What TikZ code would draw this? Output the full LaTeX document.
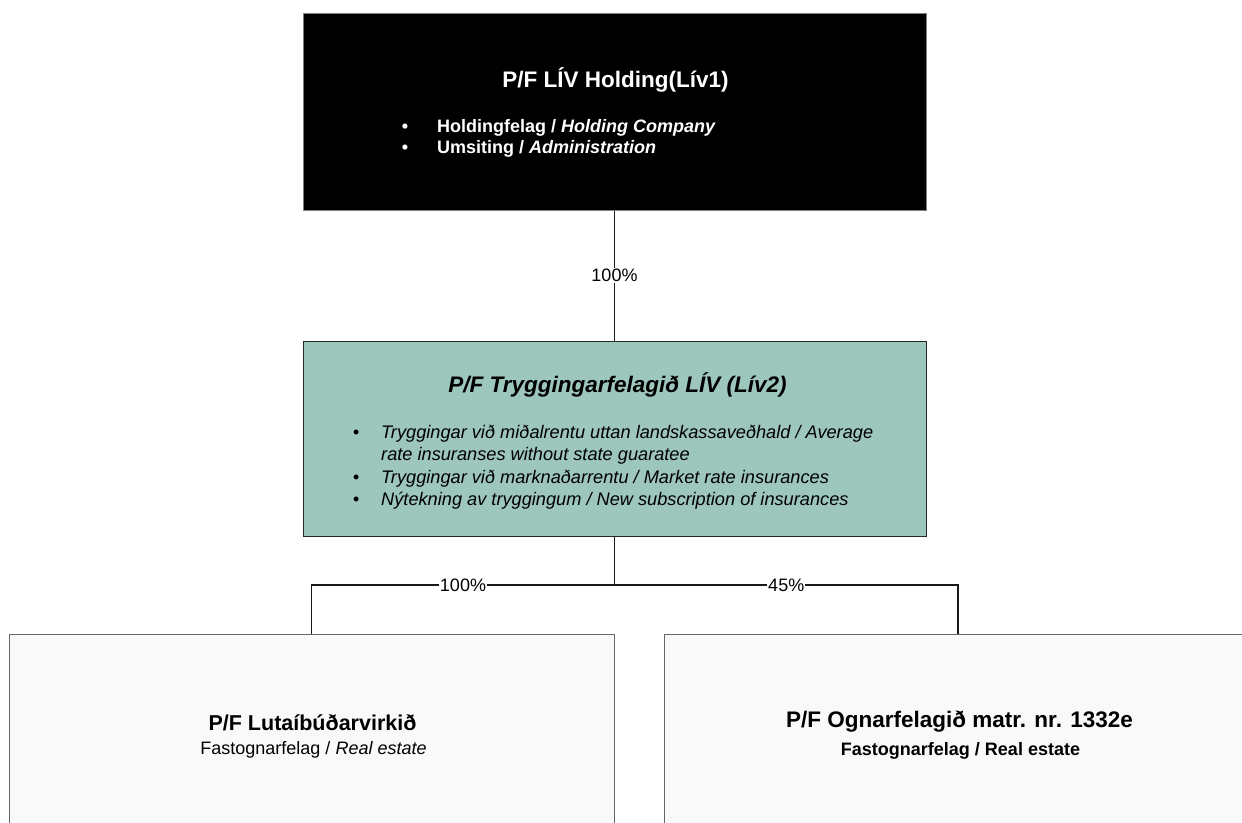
\documentclass[tikz,border=0pt]{standalone}
\usepackage{fontspec}
\setmainfont{Liberation Sans}
\definecolor{tealfill}{RGB}{157,198,188}
\definecolor{boxgray}{RGB}{249,249,249}
\begin{document}
\begin{tikzpicture}[x=1pt,y=-1pt,
  box/.style={draw=black!60,line width=1pt,minimum width=#1,inner sep=0pt},
  conn/.style={draw=black!90,line width=1.5pt},
  lbl/.style={fill=white,inner sep=1pt,font=\fontsize{18}{21}\selectfont},
  txt/.style={inner sep=0pt,anchor=base west},
  dot/.style={inner sep=0pt,anchor=base},
  ttl/.style={inner sep=0pt,anchor=base,font=\bfseries\fontsize{22.5}{26}\selectfont},
  body/.style={font=\fontsize{18}{21}\selectfont}]
\useasboundingbox (0,0) rectangle (1242,822);
\fill[white] (0,0) rectangle (1242,822);
% boxes
\node[box=623pt,minimum height=197pt,fill=black,draw=black!50] (top) at (614.5,111.5) {};
\node[box=623pt,minimum height=195pt,fill=tealfill,draw=black!85] (mid) at (614.5,438.5) {};
\node[box=605pt,minimum height=210pt,fill=boxgray] (left) at (311.5,739) {};
\node[box=588pt,minimum height=210pt,fill=boxgray] (right) at (958,739) {};
% connectors
\coordinate (junc) at (614.5,585);
\draw[conn] (top.south) -- node[lbl]{100\%} (mid.north);
\draw[conn] (mid.south) -- (junc);
\draw[conn] (junc) -- node[lbl]{100\%} (junc -| left.north) -- (left.north);
\draw[conn] (junc) -- node[lbl]{45\%} (junc -| right.north) -- (right.north);
% top box text
\node[ttl,white] (toptitle) at (615.5,87) {P/F LÍV Holding(Lív1)};
\begin{scope}[body,white,font=\bfseries\fontsize{18}{21}\selectfont]
\node[dot] (tb1) at (405,132) {•};
\node[txt] (tt1) at (437,132) {Holdingfelag / \textit{Holding Company}};
\node[dot] (tb2) at (405,153) {•};
\node[txt] (tt2) at (437,153) {Umsiting / \textit{Administration}};
\end{scope}
% middle box text
\node[ttl,font=\bfseries\itshape\fontsize{22.5}{26}\selectfont] (midtitle) at (617.5,392) {P/F Tryggingarfelagið LÍV (Lív2)};
\begin{scope}[font=\itshape\fontsize{18.2}{21}\selectfont]
\node[dot] (mb1) at (356,438) {•};
\node[txt] (mt1) at (381,438) {Tryggingar við miðalrentu uttan landskassaveðhald / Average};
\node[txt] (mt1b) at (381,460) {rate insuranses without state guaratee};
\node[dot] (mb2) at (356,483) {•};
\node[txt] (mt2) at (381,483) {Tryggingar við marknaðarrentu / Market rate insurances};
\node[dot] (mb3) at (356,505) {•};
\node[txt] (mt3) at (381,505) {Nýtekning av tryggingum / New subscription of insurances};
\end{scope}
% bottom left text
\node[ttl,font=\bfseries\fontsize{21.5}{25}\selectfont] (lefttitle) at (312.5,730) {P/F Lutaíbúðarvirkið};
\node[dot,font=\fontsize{18}{21}\selectfont] (leftsub) at (313.5,754) {Fastognarfelag / \textit{Real estate}};
% bottom right text
\node[ttl,font=\bfseries\fontsize{22.5}{26}\selectfont] (righttitle) at (959.5,727) {P/F Ognarfelagið matr. nr. 1332e};
\node[dot,font=\bfseries\fontsize{18}{21}\selectfont] (rightsub) at (960.5,755) {Fastognarfelag / Real estate};
\end{tikzpicture}
\end{document}
